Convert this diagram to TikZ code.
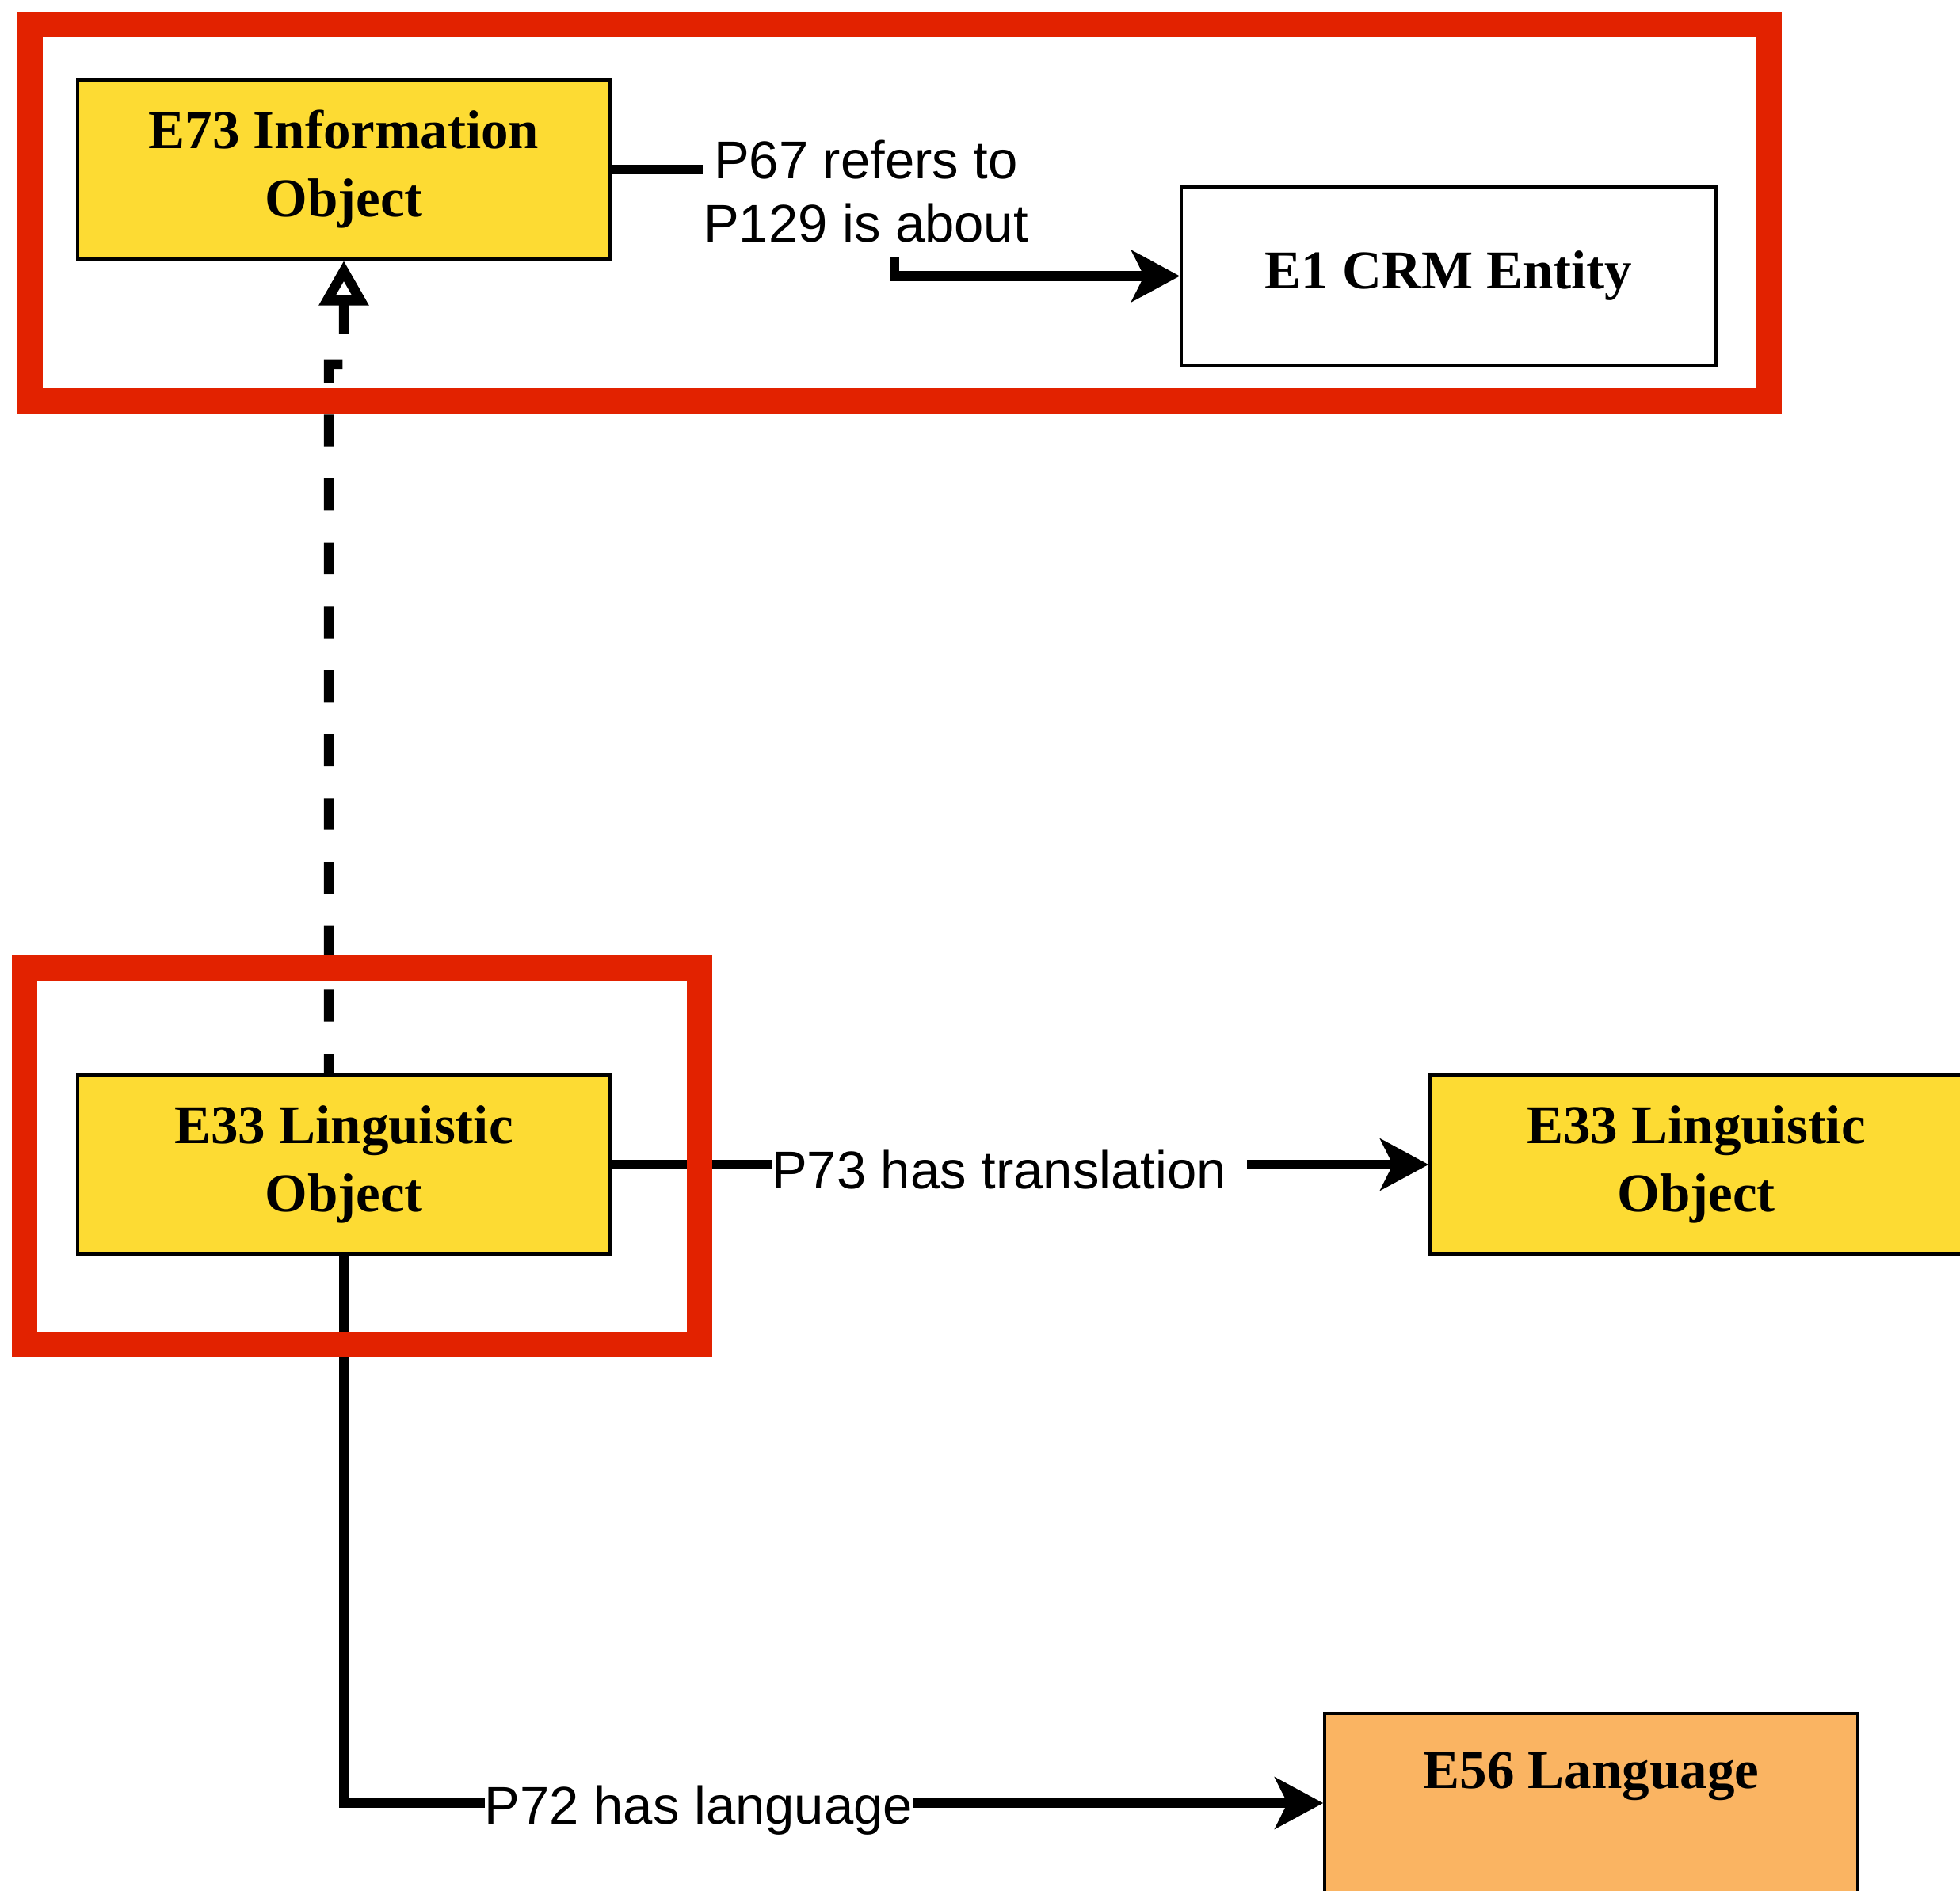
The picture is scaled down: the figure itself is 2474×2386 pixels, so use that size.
\documentclass[tikz,border=0pt]{standalone}
\usepackage{fontspec}
\setmainfont{Liberation Serif}
\setsansfont{Liberation Sans}
\usetikzlibrary{arrows.meta}
\definecolor{cyel}{RGB}{253,219,51}
\definecolor{corg}{RGB}{250,180,98}
\definecolor{cred}{RGB}{226,34,0}
\begin{document}
\begin{tikzpicture}[x=0.3pt,y=-0.3pt,
  entity/.style={draw=black, line width=1.2pt, minimum width=201.6pt, minimum height=67.8pt,
    inner sep=0pt, align=center, font=\bfseries\fontsize{20.7pt}{25.8pt}\selectfont},
  yel/.style={entity, fill=cyel},
  etext/.style={inner sep=0pt, font=\bfseries\fontsize{20.7pt}{25.8pt}\selectfont},
  plabel/.style={inner sep=0pt, align=center, font=\sffamily\fontsize{20.1pt}{24pt}\selectfont},
  conn/.style={line width=3.75pt},
  arr/.style={conn, -{Stealth[length=18.5pt,width=20pt,inset=5pt,line width=0.5pt]}},
  dsh/.style={conn, dash pattern=on 12.1pt off 12.1pt, dash phase=4.6pt,
    -{Triangle[open,length=17pt,width=18pt]}},
  frame/.style={draw=cred, line width=9.6pt}
]
\useasboundingbox (0,0) rectangle (2474,2386);

% entities
\node[yel] (E73) at (434,214) {E73 Information\\Object};
\node[entity, fill=white, minimum width=202.5pt, minimum height=67.5pt] (E1) at (1828.5,348.5) {E1 CRM Entity};
\node[yel] (E33a) at (434,1470) {E33 Linguistic\\Object};
\node[yel] (E33b) at (2141,1470) {E33 Linguistic\\Object};
\node[entity, fill=corg, minimum width=201.9pt] (E56) at (2008.5,2276) {};
\node[etext, anchor=base] (E56t) at (2008.5,2257) {E56 Language};

% labels
\node[plabel, anchor=north] (lab67) at (1093,176) {P67 refers to\\P129 is about};
\node[plabel, anchor=base] (lab73) at (1261,1500) {P73 has translation};

% P67 / P129
\draw[conn] (E73.east) -- (E73.east -| lab67.west);
\coordinate (j1) at (1129,325);
\draw[arr] (j1) |- (E1.west);

% P73
\draw[conn] (E33a.east) -- (E33a.east -| lab73.west);
\path (lab73.east |- E33a.east) ++(26,0) coordinate (t73);
\draw[arr] (t73) -- (E33b.west);

% P72
\draw[arr] (E33a.south) |- (E56.west);
\node[plabel, anchor=base, fill=white] (lab72) at (882,2302) {P72 has language};

% dashed subclass
\coordinate (dj) at (415,460);
\coordinate (dk) at (434,460);
\draw[dsh] ([xshift=-5.7pt]E33a.north) -- (dj) -- (dk) -- (E73.south);

% highlight frames
\draw[frame] (38,31) rectangle (2233,506);
\draw[frame] (30.5,1222) rectangle (882.5,1696.5);
\end{tikzpicture}
\end{document}
